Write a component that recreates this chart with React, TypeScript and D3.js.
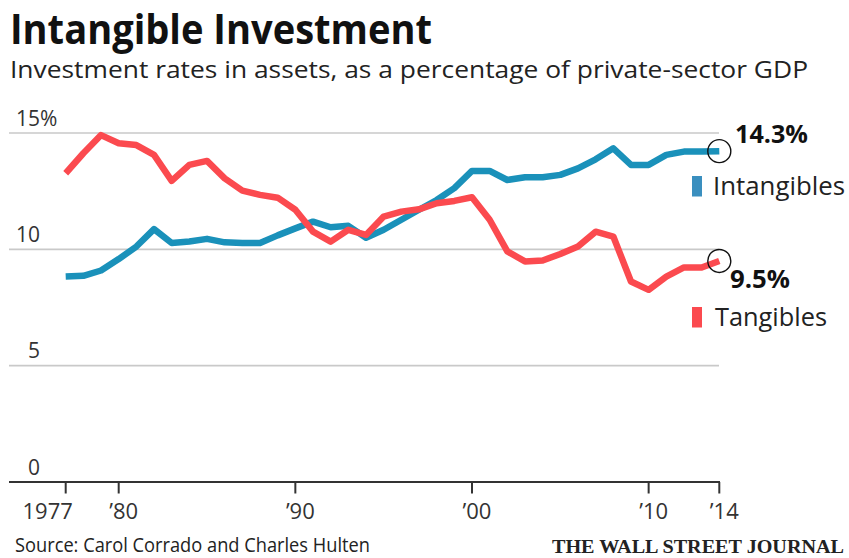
import React from "react";
import * as d3 from "d3";

const years = d3.range(1977, 2015);
const intangibles = [
  8.83, 8.86, 9.09, 9.58, 10.12, 10.87, 10.27, 10.34, 10.45, 10.3, 10.27, 10.27, 10.6,
  10.9, 11.19, 10.95, 11.01, 10.5, 10.84, 11.27, 11.7, 12.12, 12.63, 13.37, 13.37,
  12.98, 13.1, 13.1, 13.2, 13.48, 13.87, 14.34, 13.63, 13.63, 14.06, 14.2, 14.2, 14.22,
];
const tangibles = [
  13.27, 14.13, 14.91, 14.56, 14.48, 14.06, 12.94, 13.63, 13.8, 13.05, 12.52, 12.34,
  12.22, 11.7, 10.76, 10.33, 10.84, 10.62, 11.41, 11.62, 11.72, 11.98, 12.08, 12.24,
  11.27, 9.91, 9.48, 9.52, 9.8, 10.12, 10.76, 10.55, 8.62, 8.26, 8.83, 9.22, 9.22, 9.5,
];
const yTicks = [0, 5, 10, 15];
const xTicks = [1977, 1980, 1990, 2000, 2010, 2014];
const xTickLabels = ["1977", "\u201980", "\u201990", "\u201900", "\u201910", "\u201914"];
const endLabels = ["14.3%", "9.5%"];
const seriesNames = ["Intangibles", "Tangibles"];

const BLUE = "#1a91ba";
const RED = "#fb4a4f";
const SANS = "'Open Sans', 'Noto Sans', sans-serif";

export default function App() {
  const x = d3.scaleLinear().domain([1977, 2014]).range([65.7, 719.3]);
  const y = d3.scaleLinear().domain([0, 15]).range([482, 133]);
  const line = d3
    .line<number>()
    .x((_, i) => x(years[i]))
    .y((d) => y(d));
  const lastI = years.length - 1;

  return (
    <div style={{ position: "absolute", left: 0, top: 0 }}>
      <svg width={849} height={558} style={{ display: "block", background: "#fff" }}>
        <text x={10} y={43.5} fontFamily={SANS} fontWeight={700} fontSize={41}
          textLength={422} lengthAdjust="spacingAndGlyphs" fill="#111">
          Intangible Investment
        </text>
        <text x={10} y={77.5} fontFamily={SANS} fontSize={23.5}
          textLength={798} lengthAdjust="spacingAndGlyphs" fill="#222">
          Investment rates in assets, as a percentage of private-sector GDP
        </text>

        {yTicks.filter((t) => t > 0).map((t) => (
          <line key={t} x1={9} x2={719} y1={y(t)} y2={y(t)} stroke="#c9c9c9" strokeWidth={1.6} />
        ))}
        {yTicks.map((t) => (
          <text key={t} x={40} y={y(t) - 7.5} textAnchor="end" fontFamily={SANS}
            fontSize={21} fill="#333">
            {t}
          </text>
        ))}
        <text x={40} y={y(15) - 7.5} fontFamily={SANS} fontSize={21} fill="#333">%</text>

        <path d={line(intangibles) || ""} fill="none" stroke={BLUE} strokeWidth={6.5}
          strokeLinejoin="round" />
        <path d={line(tangibles) || ""} fill="none" stroke={RED} strokeWidth={6.5}
          strokeLinejoin="round" />

        <line x1={9} x2={720} y1={y(0)} y2={y(0)} stroke="#333" strokeWidth={2} />
        {xTicks.map((t, i) => (
          <g key={t}>
            <line x1={x(t)} x2={x(t)} y1={y(0)} y2={y(0) + 11.5} stroke="#333" strokeWidth={2} />
            <text x={i === 0 ? x(t) - 18 : x(t) + 5} y={518.5} textAnchor="middle"
              fontFamily={SANS} fontSize={22} fill="#333">
              {xTickLabels[i]}
            </text>
          </g>
        ))}

        <circle cx={x(years[lastI])} cy={y(intangibles[lastI])} r={11.5} fill="none"
          stroke="#111" strokeWidth={1.4} />
        <circle cx={x(years[lastI])} cy={y(tangibles[lastI])} r={11.5} fill="none"
          stroke="#111" strokeWidth={1.4} />
        <text x={735} y={142.7} fontFamily={SANS} fontWeight={700} fontSize={25}
          textLength={73} lengthAdjust="spacingAndGlyphs" fill="#111">
          {endLabels[0]}
        </text>
        <text x={730} y={288.3} fontFamily={SANS} fontWeight={700} fontSize={25}
          textLength={60} lengthAdjust="spacingAndGlyphs" fill="#111">
          {endLabels[1]}
        </text>

        <rect x={692} y={176} width={10} height={20.5} fill="#3a8fbf" />
        <text x={713} y={195} fontFamily={SANS} fontSize={25}
          textLength={132} lengthAdjust="spacingAndGlyphs" fill="#222">
          {seriesNames[0]}
        </text>
        <rect x={692} y={307} width={10} height={20.5} fill={RED} />
        <text x={715} y={326} fontFamily={SANS} fontSize={25}
          textLength={112} lengthAdjust="spacingAndGlyphs" fill="#222">
          {seriesNames[1]}
        </text>

        <text x={15} y={552} fontFamily={SANS} fontSize={20}
          textLength={355} lengthAdjust="spacingAndGlyphs" fill="#222">
          Source:  Carol Corrado and Charles Hulten
        </text>
        <text x={844} y={552.5} textAnchor="end"
          fontFamily="'Liberation Serif', 'DejaVu Serif', serif"
          fontWeight={700} fontSize={19} textLength={292} lengthAdjust="spacingAndGlyphs"
          fill="#222">
          THE WALL STREET JOURNAL
        </text>
      </svg>
    </div>
  );
}
